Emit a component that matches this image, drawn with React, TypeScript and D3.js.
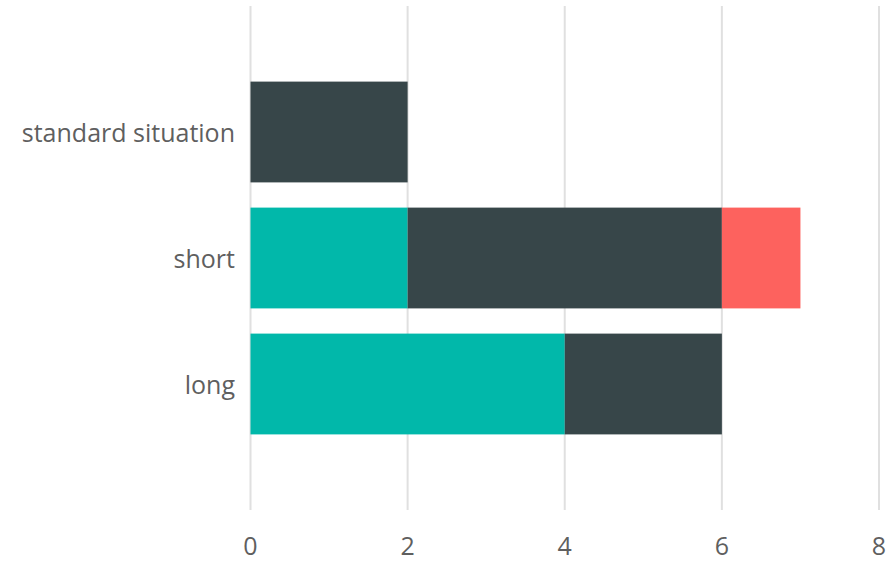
import React from "react";
import * as d3 from "d3";

const categories = ["standard situation", "short", "long"];
const seriesNames = ["teal", "dark", "red"];
const tealValues = [0, 2, 4];
const darkValues = [2, 4, 2];
const redValues = [0, 1, 0];
const xTicks = [0, 2, 4, 6, 8];
const colors = ["#01B8AA", "#374649", "#FD625E"];

export default function App() {
  const W = 896, H = 561;
  const x = d3.scaleLinear().domain([0, 8]).range([250.5, 879]);
  const y = d3.scaleBand().domain(categories).range([6, 510]).paddingInner(0.2).paddingOuter(0.6);
  const rows = categories.map((c, i) => ({ cat: c, teal: tealValues[i], dark: darkValues[i], red: redValues[i] }));
  const stack = d3.stack<any>().keys(["teal", "dark", "red"])(rows);
  const font = "'Segoe UI', 'Open Sans', 'Noto Sans', sans-serif";
  return (
    <svg width={W} height={H} style={{ position: "absolute", left: 0, top: 0, background: "#fff" }}>
      {xTicks.map((t) => (
        <line key={t} x1={x(t)} x2={x(t)} y1={6} y2={510} stroke="#e0e0e0" strokeWidth={2} />
      ))}
      {stack.map((s, si) => (
        <g key={seriesNames[si]} fill={colors[si]}>
          {s.map((d, i) => (
            d[1] - d[0] > 0 ? (
              <rect key={i} x={x(d[0])} y={y(categories[i])} width={x(d[1]) - x(d[0])} height={y.bandwidth()} />
            ) : null
          ))}
        </g>
      ))}
      {categories.map((c) => (
        <text key={c} x={235} y={(y(c) as number) + y.bandwidth() / 2} textAnchor="end" dominantBaseline="central"
          fontFamily={font} fontSize={25} fill="#5f5f5f">{c}</text>
      ))}
      {xTicks.map((t) => (
        <text key={t} x={x(t)} y={555} textAnchor="middle" fontFamily={font} fontSize={25} fill="#5f5f5f">{t}</text>
      ))}
    </svg>
  );
}
